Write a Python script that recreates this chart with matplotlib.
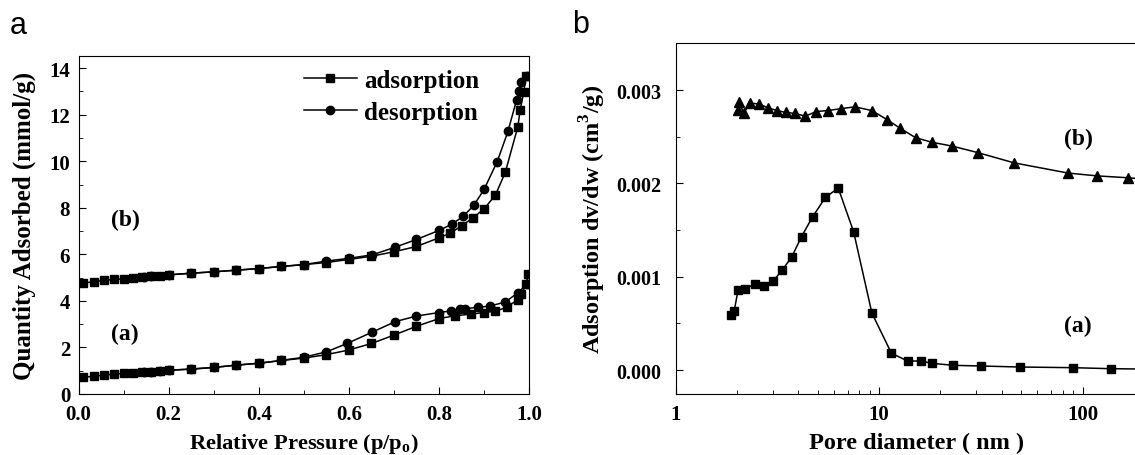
import numpy as np
import matplotlib
matplotlib.use("Agg")
import matplotlib.pyplot as plt
from matplotlib.ticker import MultipleLocator, LogLocator, NullFormatter

plt.rcParams['font.family'] = ['Liberation Serif', 'DejaVu Serif']
plt.rcParams['font.weight'] = 'bold'

# panel a: isotherms, sample (a)
pa_ads = [0.011, 0.034, 0.056, 0.079, 0.10, 0.12, 0.14, 0.16, 0.18, 0.20, 0.25, 0.30, 0.35, 0.40,
          0.45, 0.50, 0.55, 0.60, 0.65, 0.70, 0.75, 0.80, 0.835, 0.87, 0.90, 0.925, 0.95, 0.975,
          0.983, 0.993, 0.998]
qa_ads = [0.72, 0.76, 0.81, 0.85, 0.89, 0.92, 0.94, 0.96, 0.99, 1.02, 1.07, 1.14, 1.24, 1.32,
          1.44, 1.54, 1.69, 1.89, 2.17, 2.53, 2.91, 3.24, 3.36, 3.43, 3.50, 3.56, 3.72, 4.06,
          4.29, 4.72, 5.16]
pa_des = [0.995, 0.975, 0.947, 0.913, 0.886, 0.858, 0.846, 0.826, 0.80, 0.75, 0.703, 0.652,
          0.596, 0.55, 0.50, 0.45, 0.40, 0.35, 0.30, 0.25, 0.20, 0.18, 0.16, 0.145]
qa_des = [4.72, 4.35, 3.95, 3.78, 3.72, 3.67, 3.64, 3.57, 3.50, 3.35, 3.11, 2.66,
          2.17, 1.81, 1.58, 1.44, 1.32, 1.24, 1.14, 1.07, 1.02, 0.99, 0.96, 0.95]

# sample (b)
pb_ads = [0.011, 0.034, 0.056, 0.079, 0.10, 0.12, 0.14, 0.16, 0.18, 0.20, 0.25, 0.30, 0.35, 0.40,
          0.45, 0.50, 0.55, 0.60, 0.65, 0.70, 0.75, 0.80, 0.825, 0.851, 0.875, 0.90, 0.925, 0.947,
          0.975, 0.98, 0.988, 0.993]
qb_ads = [4.77, 4.82, 4.88, 4.92, 4.95, 4.99, 5.02, 5.06, 5.09, 5.12, 5.19, 5.25, 5.32, 5.39,
          5.48, 5.56, 5.65, 5.78, 5.92, 6.11, 6.34, 6.71, 6.91, 7.24, 7.56, 7.96, 8.54, 9.52,
          11.49, 12.2, 12.96, 13.65]
pb_des = [0.995, 0.983, 0.977, 0.972, 0.953, 0.929, 0.90, 0.877, 0.854, 0.828, 0.80, 0.75,
          0.703, 0.652, 0.60, 0.55, 0.50, 0.45, 0.40, 0.35, 0.30, 0.25, 0.20, 0.16, 0.145]
qb_des = [13.65, 13.4, 13.02, 12.63, 11.28, 9.98, 8.79, 8.10, 7.64, 7.29, 7.03, 6.64,
          6.31, 5.98, 5.83, 5.71, 5.56, 5.48, 5.39, 5.32, 5.25, 5.19, 5.12, 5.06, 5.03]

# panel b: pore size distribution
d_a = [1.87, 1.94, 2.03, 2.19, 2.46, 2.73, 3.01, 3.34, 3.72, 4.16, 4.71, 5.45, 6.3, 7.5,
       9.22, 11.5, 13.8, 16.1, 18.2, 23.2, 31.7, 49, 89.4, 138, 250]
v_a = [0.00059, 0.00063, 0.00086, 0.00087, 0.00092, 0.00090, 0.00095, 0.00107, 0.00121,
       0.00143, 0.00164, 0.00185, 0.00195, 0.00148, 0.00061, 0.00018, 0.0000964, 0.0000964,
       0.0000714, 0.00005, 0.000043, 0.000032, 0.000025, 0.000014, 0.000008]
d_b = [2.03, 2.06, 2.16, 2.32, 2.58, 2.84, 3.15, 3.48, 3.86, 4.34, 4.92, 5.58, 6.49, 7.6,
       9.22, 11.0, 12.7, 15.1, 18.2, 22.8, 30.5, 46, 85, 118, 167, 250]
v_b = [0.00279, 0.00287, 0.00275, 0.00286, 0.00285, 0.00281, 0.00278, 0.00276, 0.00275,
       0.00272, 0.00277, 0.00278, 0.0028, 0.00282, 0.00278, 0.00268, 0.00259, 0.00249,
       0.00244, 0.0024, 0.00233, 0.00222, 0.00211, 0.00208, 0.00206, 0.00203]

fig = plt.figure(figsize=(11.35, 4.56), dpi=100)
ax1 = fig.add_axes([0.0692, 0.1338, 0.397, 0.7405])
# right panel runs past the figure edge, as in the cropped original
ax2 = fig.add_axes([0.5952, 0.1338, 0.4255, 0.7697])

lw = 1.1
ax1.plot(pa_ads, qa_ads, '-s', color='k', lw=lw, ms=5.5, label='adsorption')
ax1.plot(pa_des, qa_des, '-o', color='k', lw=lw, ms=6, label='desorption')
ax1.plot(pb_ads, qb_ads, '-s', color='k', lw=lw, ms=5.5)
ax1.plot(pb_des, qb_des, '-o', color='k', lw=lw, ms=6)
ax1.set_xlim(0, 1.0)
ax1.set_ylim(0, 14.51)
ax1.xaxis.set_major_locator(MultipleLocator(0.2))
ax1.xaxis.set_minor_locator(MultipleLocator(0.1))
ax1.yaxis.set_major_locator(MultipleLocator(2))
ax1.yaxis.set_minor_locator(MultipleLocator(1))
ax1.xaxis.set_major_formatter(matplotlib.ticker.FormatStrFormatter('%.1f'))
ax1.set_xlabel(r'Relative Pressure (p/p$_\mathregular{o}$)', fontsize=16.2, fontweight='bold', labelpad=5)
ax1.set_ylabel('Quantity Adsorbed (mmol/g)', fontsize=18, fontweight='bold', labelpad=10)
ax1.text(0.103, 7.48, '(b)', fontsize=17, fontweight='bold', ha='center', va='center')
ax1.text(0.103, 2.58, '(a)', fontsize=17, fontweight='bold', ha='center', va='center')
leg = ax1.legend(loc='upper right', frameon=False, fontsize=18, handlelength=2.1,
                 handletextpad=0.3, labelspacing=0.35, borderaxespad=0.1,
                 bbox_to_anchor=(0.917, 1.0))

ax2.plot(d_a, v_a, '-s', color='k', lw=lw, ms=5.5)
ax2.plot(d_b, v_b, '-^', color='k', lw=lw, ms=6.5)
ax2.set_xscale('log')
ax2.set_xlim(1, 236)
ax2.set_ylim(-0.000257, 0.003504)
ax2.yaxis.set_major_locator(MultipleLocator(0.001))
ax2.yaxis.set_minor_locator(MultipleLocator(0.0005))
ax2.yaxis.set_major_formatter(matplotlib.ticker.FormatStrFormatter('%.3f'))
ax2.xaxis.set_major_formatter(matplotlib.ticker.FuncFormatter(lambda v, p: f"{v:g}"))
ax2.xaxis.set_minor_locator(LogLocator(subs=np.arange(2, 10)))
ax2.xaxis.set_minor_formatter(NullFormatter())
ax2.set_xlabel('Pore diameter ( nm )', fontsize=17.5, fontweight='bold', labelpad=6)
ax2.set_ylabel(r'Adsorption dv/dw (cm$^\mathregular{3}$/g)', fontsize=17.5, fontweight='bold', labelpad=6)
ax2.text(95, 0.00248, '(b)', fontsize=17, fontweight='bold', ha='center', va='center')
ax2.text(95, 0.00048, '(a)', fontsize=17, fontweight='bold', ha='center', va='center')

for ax in (ax1, ax2):
    ax.tick_params(which='both', direction='in', labelsize=15)
    ax.tick_params(which='major', length=5)
    ax.tick_params(which='minor', length=3)
    ax.tick_params(axis='x', which='both', pad=7)
    for lab in ax.get_xticklabels() + ax.get_yticklabels():
        lab.set_fontweight('bold')
ax1.tick_params(axis='y', which='both', pad=6)
ax2.tick_params(axis='y', which='both', pad=10, labelsize=14.5)

fig.text(0.0088, 0.943, 'a', fontsize=22, family='Liberation Sans', fontweight='normal', va='center')
fig.text(0.504, 0.945, 'b', fontsize=22, family='Liberation Sans', fontweight='normal', va='center')

fig.savefig('out.png', dpi=100)
